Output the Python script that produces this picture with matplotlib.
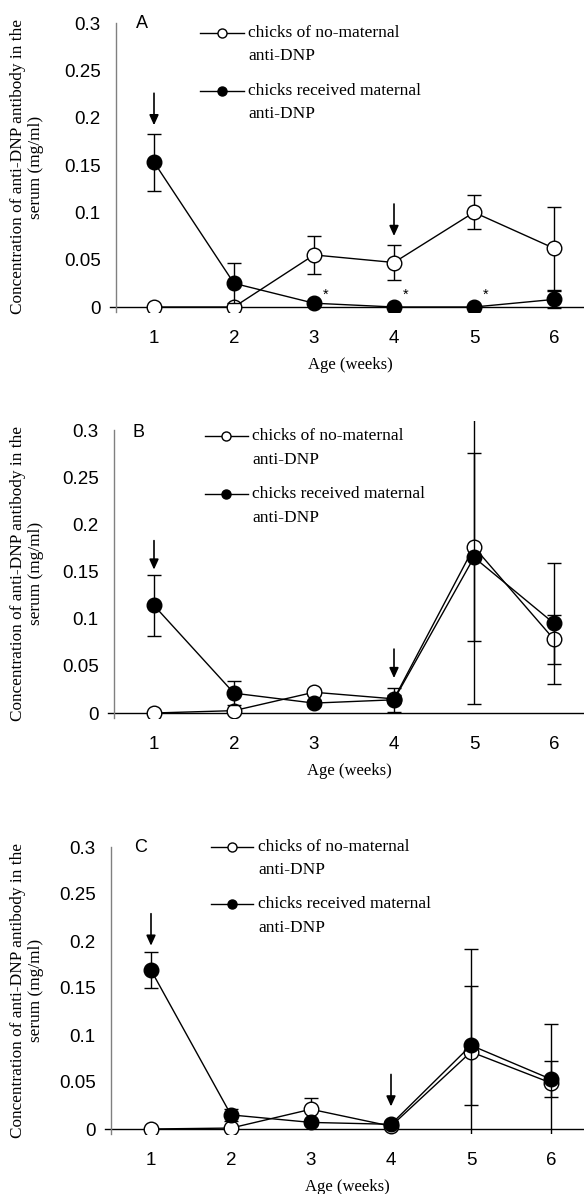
import matplotlib
matplotlib.use("Agg")
import matplotlib.pyplot as plt
from matplotlib.lines import Line2D

# ---- data (mg/ml) ----
weeks = [1, 2, 3, 4, 5, 6]
xtick_labels = ["1", "2", "3", "4", "5", "6"]
ytick_vals = [0, 0.05, 0.1, 0.15, 0.2, 0.25, 0.3]
ytick_labels = ["0", "0.05", "0.1", "0.15", "0.2", "0.25", "0.3"]

label_none = ["chicks of no-maternal", "anti-DNP"]
label_mat = ["chicks received maternal", "anti-DNP"]

# panel A
a_none = [0.0, 0.0, 0.055, 0.047, 0.100, 0.062]
a_none_err = [0.0, 0.0, 0.020, 0.018, 0.018, 0.044]
a_mat = [0.153, 0.025, 0.004, 0.0, 0.0, 0.008]
a_mat_err = [0.030, 0.021, 0.002, 0.0, 0.0, 0.009]
a_arrows = [(1, 0.192), (4, 0.075)]
a_stars = [3, 4, 5]

# panel B
b_none = [0.0, 0.0025, 0.022, 0.015, 0.176, 0.078]
b_none_err = [0.0, 0.002, 0.003, 0.004, 0.100, 0.026]
b_mat = [0.114, 0.021, 0.0105, 0.014, 0.165, 0.095]
b_mat_err = [0.032, 0.013, 0.003, 0.0125, 0.155, 0.064]
b_arrows = [(1, 0.152), (4, 0.037)]

# panel C
c_none = [0.0, 0.001, 0.021, 0.003, 0.082, 0.049]
c_none_err = [0.0, 0.001, 0.012, 0.002, 0.110, 0.063]
c_mat = [0.169, 0.015, 0.007, 0.005, 0.089, 0.053]
c_mat_err = [0.019, 0.006, 0.003, 0.003, 0.063, 0.019]
c_arrows = [(1, 0.195), (4, 0.024)]

W, H = 584, 1194
SERIF = "Liberation Serif"
SANS = "Liberation Sans"

# layout in pixels (measured on the reference)
panels = [
    dict(tag="A", none=a_none, none_err=a_none_err, mat=a_mat, mat_err=a_mat_err,
         arrows=a_arrows, stars=a_stars, arrow_len=32,
         left=116, x1=154, y03=23, y0=307, lx0=200, lx1=244, mx=222,
         rows=[33, 91], tx=248, letter=(136, 24)),
    dict(tag="B", none=b_none, none_err=b_none_err, mat=b_mat, mat_err=b_mat_err,
         arrows=b_arrows, stars=[], arrow_len=29,
         left=114, x1=154, y03=430, y0=713, lx0=205, lx1=248, mx=226,
         rows=[436, 494], tx=252, letter=(133, 433)),
    dict(tag="C", none=c_none, none_err=c_none_err, mat=c_mat, mat_err=c_mat_err,
         arrows=c_arrows, stars=[], arrow_len=32,
         left=111, x1=151, y03=847, y0=1129, lx0=211, lx1=253, mx=232,
         rows=[847, 904], tx=258, letter=(134, 848)),
]

fig = plt.figure(figsize=(W / 100, H / 100), dpi=100)


def fx(x):
    return x / W


def fy(y):
    return 1 - y / H


YBOT, YTOP = -0.005, 0.31

for p in panels:
    ppu = (p["y0"] - p["y03"]) / 0.3
    top_px = p["y03"] - (YTOP - 0.3) * ppu
    bot_px = p["y0"] - YBOT * ppu
    ax = fig.add_axes([fx(p["left"]), fy(bot_px), (W - p["left"]) / W, (bot_px - top_px) / H])
    ax.set_xlim(1 - (p["x1"] - p["left"]) / 80, 1 + (W - p["x1"]) / 80)
    ax.set_ylim(YBOT, YTOP)

    for s in ["top", "right", "bottom"]:
        ax.spines[s].set_visible(False)
    ax.spines["left"].set_color("#808080")
    ax.spines["left"].set_linewidth(1.0)
    ax.spines["left"].set_bounds(YBOT, 0.3)
    ax.axhline(0, xmin=-6 / (W - p["left"]), xmax=1, color="black", lw=1.0, clip_on=False, zorder=1)

    ax.set_xticks(weeks)
    ax.set_xticklabels(xtick_labels, fontfamily=SANS, fontsize=13.5)
    ax.set_yticks(ytick_vals)
    ax.set_yticklabels(ytick_labels, fontfamily=SANS, fontsize=13.5)
    ax.tick_params(axis="x", length=0, pad=13)
    ax.tick_params(axis="y", length=0, pad=11)

    ax.errorbar(weeks, p["none"], yerr=p["none_err"], color="black", lw=1.0,
                elinewidth=1.0, capsize=4.7, capthick=1.0, marker="o", ms=10.5,
                mfc="white", mec="black", mew=1.0, zorder=3)
    ax.errorbar(weeks, p["mat"], yerr=p["mat_err"], color="black", lw=1.0,
                elinewidth=1.0, capsize=4.7, capthick=1.0, marker="o", ms=10.5,
                mfc="black", mec="black", mew=1.0, zorder=4)

    for wk, tip in p["arrows"]:
        ax.annotate("", xy=(wk, tip), xytext=(0, p["arrow_len"] * 0.72), textcoords="offset points",
                    arrowprops=dict(arrowstyle="-|>,head_length=0.55,head_width=0.25",
                                    color="black", lw=1.2, mutation_scale=11,
                                    shrinkA=0, shrinkB=0))
    for wk in p["stars"]:
        ax.annotate("*", xy=(wk, 0), xytext=(6, 6), textcoords="offset points",
                    fontfamily=SANS, fontsize=10.5, ha="left", va="baseline")

    ax.set_xlabel("Age (weeks)", fontfamily=SERIF, fontsize=12, va="center")
    ax.xaxis.set_label_coords(0.5, -(p["y0"] + 58 - bot_px) / (bot_px - top_px))

    # y label
    fig.text(fx(27), fy((p["y03"] + p["y0"]) / 2 + 2),
             "Concentration of anti-DNP antibody in the\nserum (mg/ml)",
             rotation=90, ha="center", va="center", multialignment="center",
             fontfamily=SERIF, fontsize=12.4, linespacing=1.1)

    # panel letter
    fig.text(fx(p["letter"][0]), fy(p["letter"][1]), p["tag"], ha="left", va="center",
             fontfamily=SANS, fontsize=13)

    # legend (key aligned with first text line)
    for row, face, lab in zip(p["rows"], ["white", "black"], [label_none, label_mat]):
        fig.add_artist(Line2D([fx(p["lx0"]), fx(p["lx1"])], [fy(row), fy(row)],
                              transform=fig.transFigure, color="black", lw=1.0))
        fig.add_artist(Line2D([fx(p["mx"])], [fy(row)], transform=fig.transFigure,
                              marker="o", ms=6.5, mfc=face, mec="black", mew=1.0))
        fig.text(fx(p["tx"]), fy(row), lab[0], ha="left", va="center",
                 fontfamily=SERIF, fontsize=12.5)
        fig.text(fx(p["tx"]), fy(row + 23.5), lab[1], ha="left", va="center",
                 fontfamily=SERIF, fontsize=12.5)

fig.savefig("out.png", dpi=100)
